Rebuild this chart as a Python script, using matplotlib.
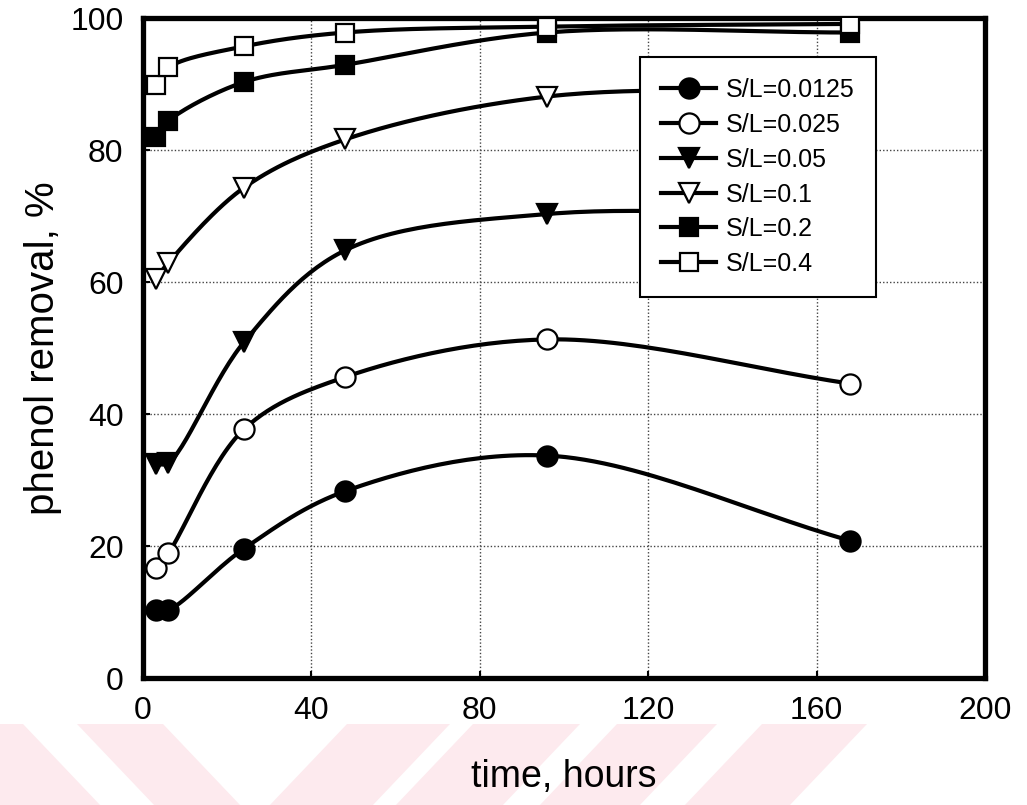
import numpy as np
import matplotlib
matplotlib.use("Agg")
import matplotlib.pyplot as plt
from matplotlib.patches import Polygon

# ---- data ----
time_h = [3, 6, 24, 48, 96, 168]
labels = ["S/L=0.0125", "S/L=0.025", "S/L=0.05", "S/L=0.1", "S/L=0.2", "S/L=0.4"]
sl_00125 = [10.3, 10.3, 19.6, 28.3, 33.7, 20.8]
sl_0025 = [16.7, 18.9, 37.7, 45.6, 51.3, 44.6]
sl_005 = [32.4, 32.6, 50.9, 64.8, 70.3, 70.0]
sl_01 = [60.4, 62.9, 74.3, 81.6, 88.1, 89.0]
sl_02 = [81.9, 84.4, 90.3, 92.9, 97.8, 97.8]
sl_04 = [89.8, 92.5, 95.7, 97.8, 98.7, 99.1]
series = [sl_00125, sl_0025, sl_005, sl_01, sl_02, sl_04]
markers = ["o", "o", "v", "v", "s", "s"]
fills = ["black", "white", "black", "white", "black", "white"]
msizes = [14.5, 14.5, 14.5, 14.5, 13, 13]
x_ticks = [0, 40, 80, 120, 160, 200]
y_ticks = [0, 20, 40, 60, 80, 100]

W, H = 1027, 805
plt.rcParams['font.family'] = ['Liberation Sans', 'DejaVu Sans']
fig = plt.figure(figsize=(W / 100, H / 100), dpi=100)

# axes placement (pixels)
L, R, T, B = 143, 985, 18, 678
ax = fig.add_axes([L / W, 1 - B / H, (R - L) / W, (B - T) / H])
ax.set_xlim(0, 200)
ax.set_ylim(0, 100)

# watermark chevrons (figure pixel coords, top y=724, bottom y=806)
wm_col = '#fdeaee'
y0, y1 = 724, 806
dx_back = 78   # "\" stripes shift right going down
dx_fwd = -78   # "/" stripes shift left going down
back = [(-80, 23), (77, 163)]
fwd = [(347, 450), (473, 580), (617, 717), (762, 867)]
for (a, b), d in [(s, dx_back) for s in back] + [(s, dx_fwd) for s in fwd]:
    pts = [(a, y0), (b, y0), (b + d, y1), (a + d, y1)]
    pts = [(px / W, 1 - py / H) for px, py in pts]
    fig.patches.append(Polygon(pts, closed=True, transform=fig.transFigure,
                               facecolor=wm_col, edgecolor='none', zorder=-5))


def smooth_curve(ax, x, y, n=30):
    pts = ax.transData.transform(np.column_stack([x, y]))
    P = np.vstack([2 * pts[0] - pts[1], pts, 2 * pts[-1] - pts[-2]])
    out = []
    for i in range(1, len(P) - 2):
        p0, p1, p2, p3 = P[i - 1], P[i], P[i + 1], P[i + 2]
        def tj(ti, pa, pb):
            return ti + max(np.hypot(*(pb - pa)), 1e-6) ** 0.5
        t0 = 0.0
        t1 = tj(t0, p0, p1)
        t2 = tj(t1, p1, p2)
        t3 = tj(t2, p2, p3)
        t = np.linspace(t1, t2, n, endpoint=False)[:, None]
        A1 = (t1 - t) / (t1 - t0) * p0 + (t - t0) / (t1 - t0) * p1
        A2 = (t2 - t) / (t2 - t1) * p1 + (t - t1) / (t2 - t1) * p2
        A3 = (t3 - t) / (t3 - t2) * p2 + (t - t2) / (t3 - t2) * p3
        B1 = (t2 - t) / (t2 - t0) * A1 + (t - t0) / (t2 - t0) * A2
        B2 = (t3 - t) / (t3 - t1) * A2 + (t - t1) / (t3 - t1) * A3
        C = (t2 - t) / (t2 - t1) * B1 + (t - t1) / (t2 - t1) * B2
        out.append(C)
    out.append(pts[-1:])
    c = ax.transData.inverted().transform(np.vstack(out))
    return c[:, 0], c[:, 1]


handles = []
for vals, lab, m, fc, ms in zip(series, labels, markers, fills, msizes):
    sx, sy = smooth_curve(ax, time_h, vals)
    ax.plot(sx, sy, color='black', lw=3.0, zorder=3, solid_capstyle='round')
    ax.plot(time_h, vals, linestyle='none', marker=m, markersize=ms,
            markerfacecolor=fc, markeredgecolor='black', markeredgewidth=1.6,
            zorder=4)
    proxy, = ax.plot([], [], color='black', lw=3.0, marker=m, markersize=ms,
                     markerfacecolor=fc, markeredgecolor='black', markeredgewidth=1.6,
                     label=lab)
    handles.append(proxy)

ax.set_xticks(x_ticks)
ax.set_yticks(y_ticks)
ax.grid(True, color='#444444', linestyle=(0, (1, 1.5)), linewidth=1.0)
ax.set_axisbelow(True)
for s in ax.spines.values():
    s.set_linewidth(3.8)
    s.set_color('black')
ax.tick_params(direction='in', length=5, width=1.5, labelsize=23, pad=13)
ax.tick_params(axis='y', pad=14)

ax.set_xlabel("time, hours", fontsize=27, labelpad=24)
ax.set_ylabel("phenol removal, %", fontsize=29, labelpad=6)

leg = ax.legend(handles=handles, loc='upper left',
                bbox_to_anchor=((640 - L) / (R - L), (B - 57) / (B - T)),
                borderaxespad=0, fontsize=18, handlelength=2.2,
                handletextpad=0.4, labelspacing=0.43, borderpad=0.85,
                numpoints=1, fancybox=False, framealpha=1, shadow=False)
leg.get_frame().set_edgecolor('black')
leg.get_frame().set_linewidth(1.5)
leg.set_zorder(10)

fig.savefig("out.png", dpi=100)
